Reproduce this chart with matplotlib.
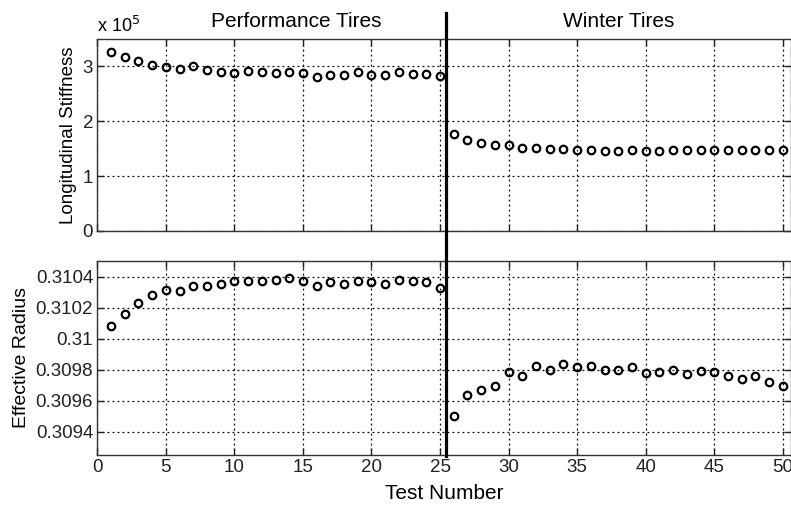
import matplotlib
matplotlib.use("Agg")
import matplotlib.pyplot as plt
from matplotlib.lines import Line2D
from matplotlib.transforms import blended_transform_factory

plt.rcParams['font.family'] = ['Liberation Sans', 'DejaVu Sans']

# numero do teste
test_num = list(range(1, 51))

# rigidez longitudinal (x 1e5)
stiffness = [3.26, 3.17, 3.09, 3.02, 2.99, 2.95, 3.00, 2.93, 2.89, 2.88,
             2.92, 2.89, 2.88, 2.90, 2.88, 2.81, 2.85, 2.84, 2.89, 2.85,
             2.84, 2.89, 2.86, 2.86, 2.83,
             1.76, 1.65, 1.61, 1.56, 1.56, 1.52, 1.52, 1.49, 1.49, 1.47,
             1.47, 1.46, 1.46, 1.47, 1.45, 1.45, 1.47, 1.47, 1.47, 1.47,
             1.47, 1.47, 1.475, 1.47, 1.47]

# raio efetivo
radius = [0.310084, 0.310161, 0.310229, 0.310278, 0.310315, 0.310306,
          0.310342, 0.310338, 0.310353, 0.310374, 0.310374, 0.310370,
          0.310376, 0.310391, 0.310370, 0.310342, 0.310364, 0.310353,
          0.310374, 0.310362, 0.310353, 0.310379, 0.310374, 0.310364,
          0.310328,
          0.309501, 0.309635, 0.309667, 0.309695, 0.309783, 0.309757,
          0.309821, 0.309800, 0.309834, 0.309819, 0.309823, 0.309800,
          0.309800, 0.309817, 0.309781, 0.309785, 0.309800, 0.309774,
          0.309791, 0.309785, 0.309757, 0.309740, 0.309757, 0.309723,
          0.309697]

divider = 25.4
groups = ["Performance Tires", "Winter Tires"]
group_x = [14.5, 38]

fig = plt.figure(figsize=(7.91, 5.07), dpi=100)
ax1 = fig.add_axes([0.123, 0.5444, 0.877, 0.3787])
ax2 = fig.add_axes([0.123, 0.1026, 0.877, 0.3826])

grid_ls = (0, (1.5, 2.5))

for ax in (ax1, ax2):
    ax.set_xlim(0, 50.6)
    ax.set_xticks(range(0, 51, 5))
    ax.grid(True, color='black', linestyle=grid_ls, linewidth=0.9)
    ax.tick_params(direction='in', length=5, width=1, top=True, right=True,
                   labelsize=13.5, pad=3, colors='#222222')
    for s in ax.spines.values():
        s.set_color('#333333')
        s.set_linewidth(1.0)

ax1.plot(test_num, stiffness, 'o', mfc='none', mec='black', ms=5.4, mew=1.6)
ax1.set_ylim(0, 3.5)
ax1.set_yticks([0, 1, 2, 3])
ax1.tick_params(labelbottom=False)
ax1.set_ylabel("Longitudinal Stiffness", fontsize=13.5, labelpad=4)
ax1.text(0, 1.015, r"x 10$^5$", transform=ax1.transAxes, fontsize=13,
         ha='left', va='bottom')

tr = blended_transform_factory(ax1.transData, ax1.transAxes)
for name, gx in zip(groups, group_x):
    ax1.text(gx, 1.09, name, transform=tr, fontsize=15, ha='center', va='center')

ax2.plot(test_num, radius, 'o', mfc='none', mec='black', ms=5.4, mew=1.6)
ax2.set_ylim(0.30925, 0.31050)
ax2.set_yticks([0.3094, 0.3096, 0.3098, 0.3100, 0.3102, 0.3104])
ax2.set_yticklabels(["0.3094", "0.3096", "0.3098", "0.31", "0.3102", "0.3104"])
ax2.set_ylabel("Effective Radius", fontsize=14, labelpad=4)
ax2.set_xlabel("Test Number", fontsize=15, labelpad=6)

# linha divisoria entre os dois tipos de pneu
ftr = blended_transform_factory(ax1.transData, fig.transFigure)
fig.add_artist(Line2D([divider, divider], [0.101, 0.974], transform=ftr,
                      color='black', linewidth=2.3))

fig.savefig("out.png", dpi=100)
